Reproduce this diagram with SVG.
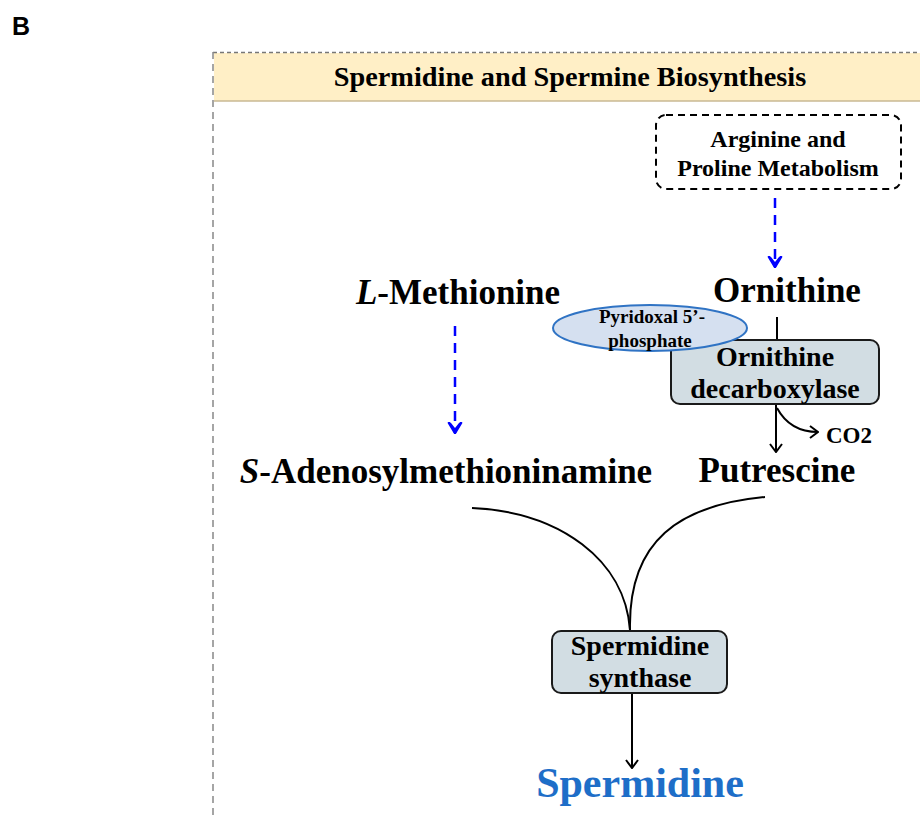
<svg xmlns="http://www.w3.org/2000/svg" width="920" height="816" viewBox="0 0 920 816">
<style>
  .t{font-family:"Liberation Serif","Times New Roman",serif;font-weight:bold;fill:#000;text-anchor:middle}
  .enz{fill:#D2DDE3;stroke:#1a1a1a;stroke-width:2}
  .blue{stroke:#0000FF;stroke-width:2.5;stroke-dasharray:10 7;fill:none}
  .blk{stroke:#000;stroke-width:2;fill:none}
</style>
<defs>
  <marker id="ab" viewBox="0 0 12 16" refX="11" refY="8" markerWidth="12" markerHeight="16" markerUnits="userSpaceOnUse" orient="auto">
    <path d="M0,1 L12,8 L0,15 L1,12 L6,8 L1,4 Z" fill="#0000FF"/>
    <path d="M0,1.5 L11,8 L0,14.5" fill="none" stroke="#0000FF" stroke-width="2.5"/>
  </marker>
  <marker id="ak" viewBox="0 0 12 14" refX="11" refY="7" markerWidth="12" markerHeight="14" markerUnits="userSpaceOnUse" orient="auto">
    <path d="M3,1 L11,7 L3,13" fill="none" stroke="#000" stroke-width="2"/>
  </marker>
</defs>
<rect width="920" height="816" fill="#fff"/>
<text x="12" y="35" font-family="Liberation Sans,Arial,sans-serif" font-weight="bold" font-size="25">B</text>

<g id="frame">
  <rect x="214" y="53" width="706" height="48" fill="#FFEFC6"/>
  <line x1="214" y1="101" x2="920" y2="101" stroke="#C9B893" stroke-width="1.5"/>
  <line x1="213" y1="52.5" x2="920" y2="52.5" stroke="#777" stroke-width="1.5" stroke-dasharray="4 3"/>
  <line x1="213" y1="52" x2="213" y2="816" stroke="#888" stroke-width="1.5" stroke-dasharray="7 5"/>
  <text class="t" x="570" y="86" font-size="28.3">Spermidine and Spermine Biosynthesis</text>
</g>

<g id="connectors">
  <line class="blue" x1="775" y1="198" x2="775" y2="267" marker-end="url(#ab)"/>
  <line class="blue" x1="455" y1="326" x2="455" y2="433" marker-end="url(#ab)"/>
  <line class="blk" x1="777" y1="317" x2="777" y2="340"/>
  <line class="blk" x1="776" y1="404" x2="776" y2="452" marker-end="url(#ak)"/>
  <path class="blk" d="M777,408 Q790,432 818,432" marker-end="url(#ak)"/>
  <path class="blk" d="M472,508 C560,512 625,560 630,630"/>
  <path class="blk" d="M765,497 C680,505 628,540 630,630"/>
  <line class="blk" x1="632" y1="693" x2="632" y2="768" marker-end="url(#ak)"/>
</g>

<g id="arginine">
  <rect x="656" y="115" width="245" height="74" rx="10" fill="none" stroke="#000" stroke-width="2" stroke-dasharray="7 5"/>
  <text class="t" x="778" y="147" font-size="24">Arginine and</text>
  <text class="t" x="778" y="176" font-size="24">Proline Metabolism</text>
</g>

<g id="ornithine"><text class="t" x="787" y="302" font-size="35">Ornithine</text></g>
<g id="methionine"><text class="t" x="458" y="304" font-size="35"><tspan font-style="italic">L</tspan>-Methionine</text></g>
<g id="sam"><text class="t" x="446" y="483" font-size="35"><tspan font-style="italic">S</tspan>-Adenosylmethioninamine</text></g>
<g id="putrescine"><text class="t" x="777" y="482" font-size="35">Putrescine</text></g>
<g id="co2"><text class="t" x="849" y="443" font-size="23">CO2</text></g>

<g id="odc">
  <rect class="enz" x="671" y="340" width="208" height="64" rx="9"/>
  <text class="t" x="775" y="366" font-size="28">Ornithine</text>
  <text class="t" x="775" y="398" font-size="28">decarboxylase</text>
</g>

<g id="plp">
  <ellipse cx="650" cy="328" rx="97" ry="23" fill="#D5E0F0" stroke="#2F73C4" stroke-width="2"/>
  <text class="t" x="652" y="323" font-size="19">Pyridoxal 5’-</text>
  <text class="t" x="650" y="347" font-size="19">phosphate</text>
</g>

<g id="spds">
  <rect class="enz" x="552" y="631" width="175" height="62" rx="9"/>
  <text class="t" x="640" y="655" font-size="28">Spermidine</text>
  <text class="t" x="640" y="687" font-size="28">synthase</text>
</g>

<g id="spermidine"><text class="t" x="640" y="797" font-size="42" style="fill:#1E6EC8">Spermidine</text></g>
</svg>
